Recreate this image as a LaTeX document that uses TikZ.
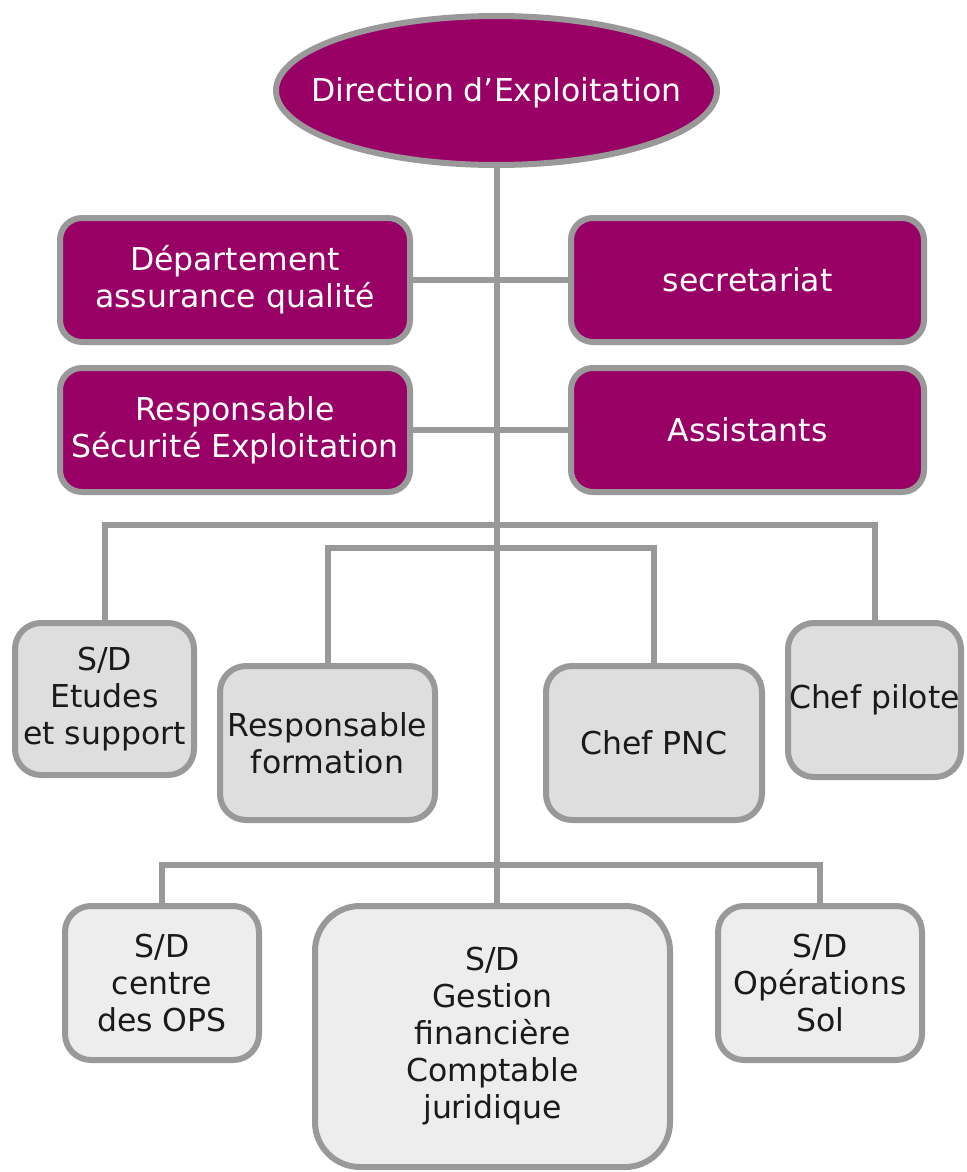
\documentclass[tikz,border=0pt]{standalone}
\usepackage{fontspec}
\setmainfont{DejaVu Sans}
\usetikzlibrary{shapes.geometric}
\definecolor{plum}{HTML}{990066}
\definecolor{edge}{HTML}{999999}
\definecolor{midfill}{HTML}{DEDEDE}
\definecolor{lowfill}{HTML}{EDEDED}
\definecolor{ink}{HTML}{1A1A1A}
\tikzset{
  base/.style={draw=edge, line width=6pt, inner sep=0pt, align=center,
    font=\fontsize{31.5}{37}\selectfont},
  topbox/.style={base, fill=plum, text=white, rounded corners=22pt,
    minimum width=350pt, minimum height=124pt},
  midbox/.style={base, fill=midfill, text=ink, rounded corners=26pt,
    minimum height=154pt},
  lowbox/.style={base, fill=lowfill, text=ink, rounded corners=26pt,
    minimum height=154pt},
  link/.style={draw=edge, line width=6pt}
}
\begin{document}
\begin{tikzpicture}[x=1pt, y=-1pt]
\useasboundingbox (0,0) rectangle (966,1172);

% head of the organisation
\node[base, ellipse, fill=plum, text=white, inner xsep=-30pt, text depth=2pt,
      minimum width=441pt, minimum height=149pt]
  (dir) at (496.5,90.5) {Direction d’Exploitation};

% staff units attached to the direction
\node[topbox] (dep) at (235,280) {Département\\assurance qualité};
\node[topbox] (rse) at (235,430) {Responsable\\Sécurité Exploitation};
\node[topbox, minimum width=353pt] (sec) at (747.5,280) {secretariat};
\node[topbox, minimum width=353pt] (ass) at (747.5,430) {Assistants};

% first line of sub-units
\node[midbox, minimum width=179pt, minimum height=152pt] (etu) at (104.5,699) {S/D\\Etudes\\et support};
\node[midbox, minimum width=215pt] (rfo) at (327.5,743) {Responsable\\formation};
\node[midbox, minimum width=216pt] (pnc) at (654,743) {Chef PNC};
\node[midbox, minimum width=173pt] (pil) at (874.5,700) {Chef pilote};

% second line of sub-units
\node[lowbox, minimum width=194pt] (ops) at (162,983) {S/D\\centre\\des OPS};
\node[lowbox, minimum width=355pt, minimum height=261pt, rounded corners=45pt]
  (gfc) at (492.5,1036.5) {S/D\\Gestion\\financière\\Comptable\\juridique};
\node[lowbox, minimum width=204pt] (sol) at (820,983) {S/D\\Opérations\\Sol};

% connectors
\coordinate (r1) at (0,525);
\coordinate (r2) at (0,548);
\coordinate (r3) at (0,865);
\draw[link] (dir.south) -- (dir.south |- gfc.north);
\draw[link] (dep.east) -- (sec.west);
\draw[link] (rse.east) -- (ass.west);
\draw[link] (etu.north) -- (etu.north |- r1) -- (pil.north |- r1) -- (pil.north);
\draw[link] (rfo.north) -- (rfo.north |- r2) -- (pnc.north |- r2) -- (pnc.north);
\draw[link] (ops.north) -- (ops.north |- r3) -- (sol.north |- r3) -- (sol.north);
\end{tikzpicture}
\end{document}
